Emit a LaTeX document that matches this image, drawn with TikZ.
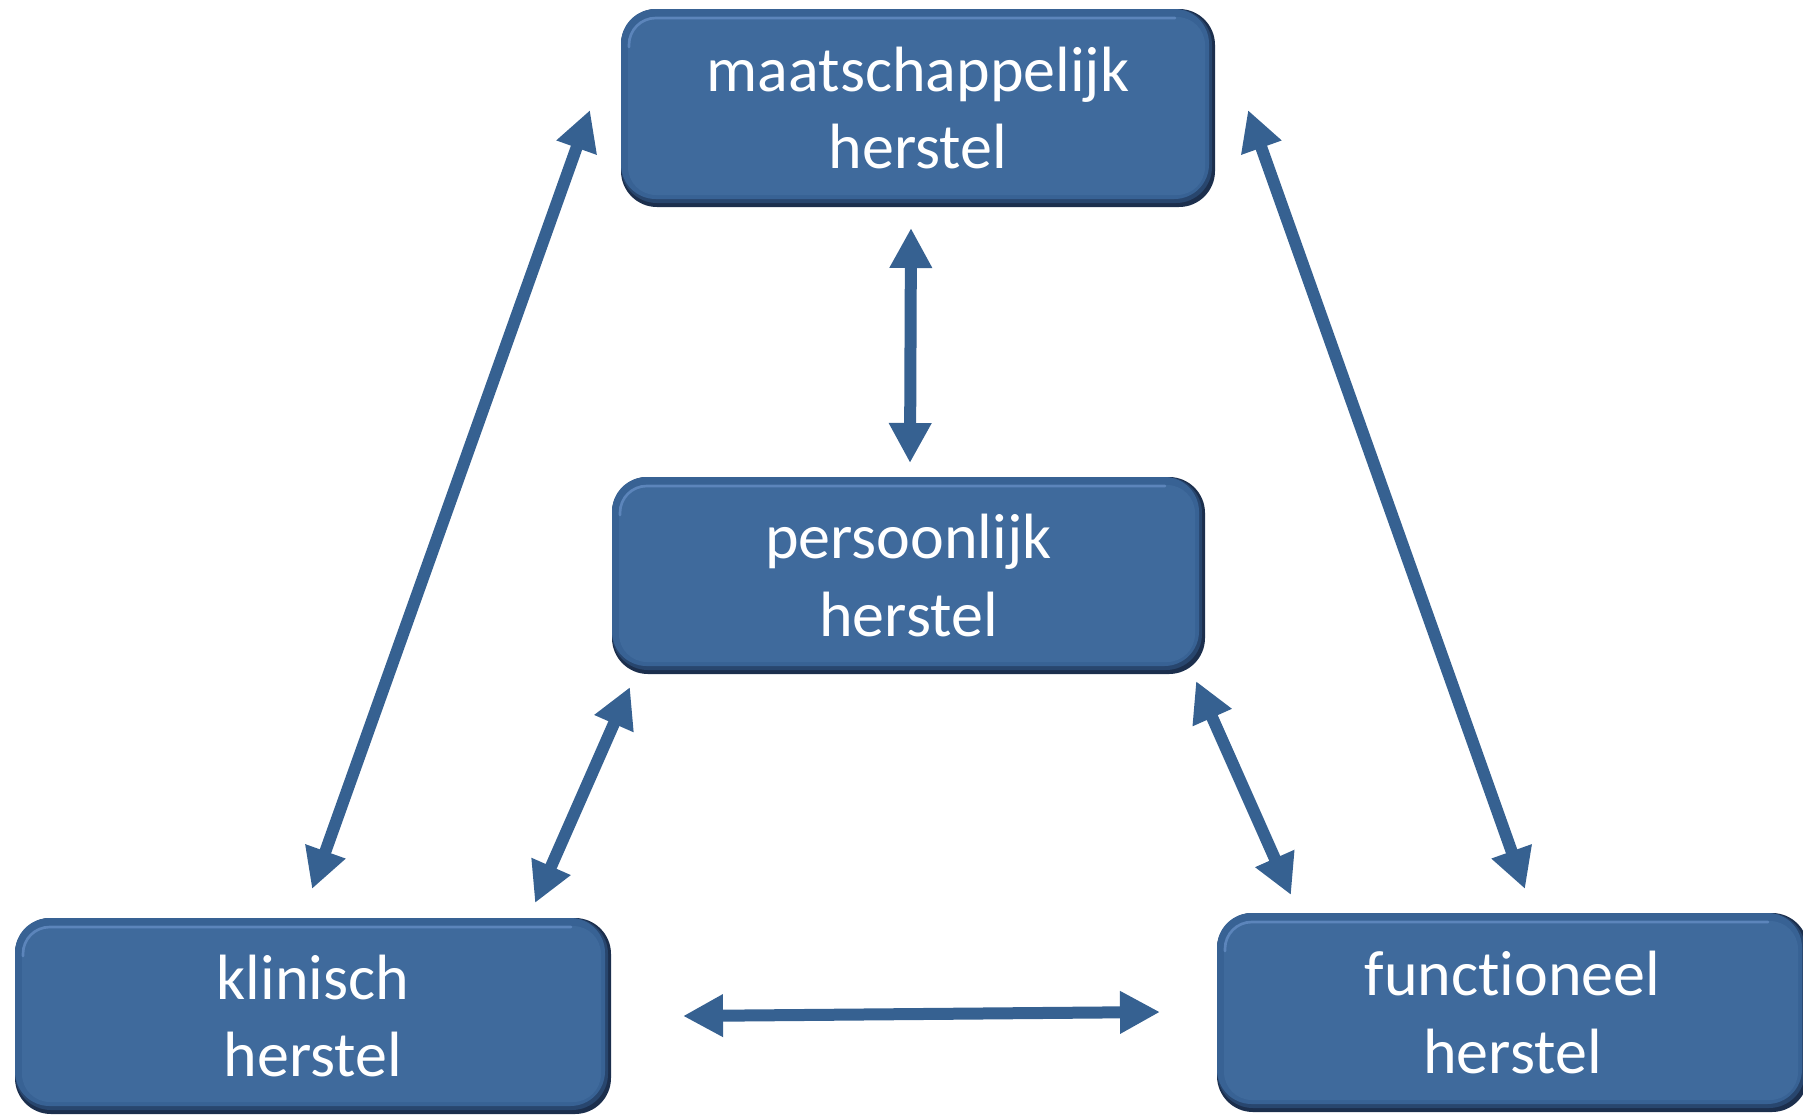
\documentclass[tikz,border=0pt]{standalone}
\usepackage{fontspec}
\setmainfont[Ligatures=CommonOff]{Carlito}
\usetikzlibrary{arrows.meta}

\definecolor{facebl}{RGB}{63,106,156}
\definecolor{rimbl}{RGB}{56,98,148}
\definecolor{edgebl}{RGB}{28,47,77}
\definecolor{midbl}{RGB}{40,70,110}
\definecolor{hilite}{RGB}{112,152,208}
\definecolor{arrowbl}{RGB}{54,97,145}

\tikzset{
  boxlabel/.style={text=white, font=\fontsize{48}{58}\selectfont, align=center, inner sep=0pt},
  link/.style={draw=arrowbl, line width=9pt,
    {Triangle[length=30pt,width=30pt]}-{Triangle[length=30pt,width=30pt]}},
}

% bevelled blue box: name, left, top, right, bottom (pixel units), label
\newcommand\bevelbox[6]{%
  \fill[edgebl, rounded corners=27pt] (#2,#3) rectangle (#4,#5);
  \fill[midbl, rounded corners=27pt] (#2,#3) rectangle ({#4-3},{#5-4});
  \fill[rimbl, rounded corners=26pt] (#2,#3) rectangle ({#4-6},{#5-8});
  \fill[facebl, rounded corners=21pt] ({#2+7},{#3+8}) rectangle ({#4-10},{#5-12});
  \draw[hilite, line width=2pt, line cap=round, opacity=0.6, rounded corners=20pt]
    ({#2+8},{#3+38}) -- ({#2+8},{#3+9}) -- ({#4-40},{#3+9});
  \node[boxlabel, minimum width={(#4-#2)*0.75pt}, minimum height={(#5-#3)*0.75pt}]
    (#1) at ({(#2+#4)/2},{(#3+#5)/2}) {#6};
}

\begin{document}
\begin{tikzpicture}[x=0.75pt, y=-0.75pt]
  \useasboundingbox (0,0) rectangle (1803,1115);

  \bevelbox{social}{621}{9}{1215}{207}{maatschappelijk\\herstel}
  \bevelbox{personal}{612}{477}{1205}{674}{persoonlijk\\herstel}
  \bevelbox{clinical}{15}{918}{611}{1114}{klinisch\\herstel}
  \bevelbox{functional}{1217}{913}{1808}{1112}{functioneel\\herstel}

  % arrow end points
  \coordinate (sp1) at (911,228);  \coordinate (sp2) at (910,463);
  \coordinate (sc1) at (590,110);  \coordinate (sc2) at (312,889);
  \coordinate (sf1) at (1248,110); \coordinate (sf2) at (1525,889);
  \coordinate (pc1) at (630,687);  \coordinate (pc2) at (535,903);
  \coordinate (pf1) at (1196,681); \coordinate (pf2) at (1291,895);
  \coordinate (cf1) at (683,1016); \coordinate (cf2) at (1160,1012);

  \draw[link] (sp1) -- (sp2);
  \draw[link] (sc1) -- (sc2);
  \draw[link] (sf1) -- (sf2);
  \draw[link] (pc1) -- (pc2);
  \draw[link] (pf1) -- (pf2);
  \draw[link] (cf1) -- (cf2);
\end{tikzpicture}
\end{document}
